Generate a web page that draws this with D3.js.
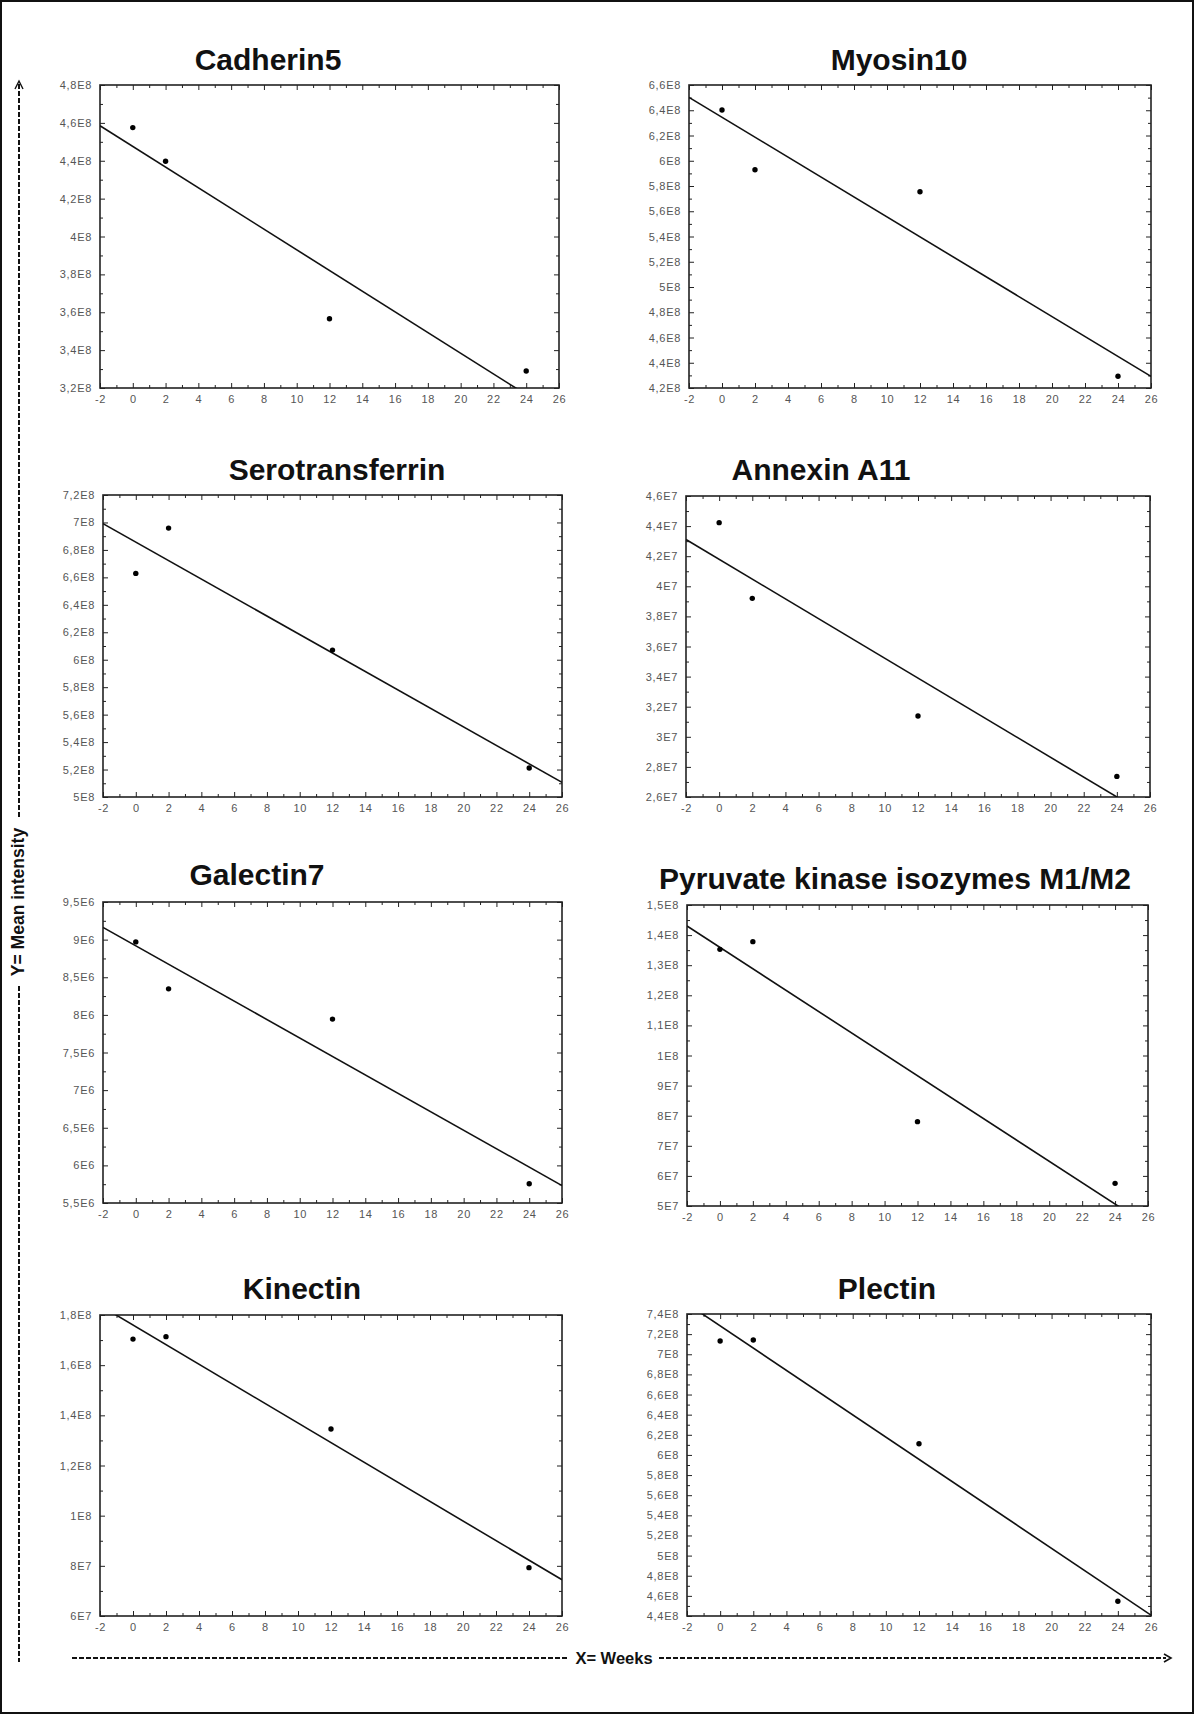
<!DOCTYPE html>
<html>
<head>
<meta charset="utf-8">
<script src="https://cdn.jsdelivr.net/npm/d3@7"></script>
<style>
  html, body { margin: 0; padding: 0; background: #fff; }
  svg { display: block; }
</style>
</head>
<body>
<svg id="fig" width="1195" height="1715"></svg>
<script>
// Sampling times (weeks) shared by every protein
const weeks = [0, 2, 12, 24];

// Mean intensity per protein at each sampling time
const cadherin5      = [4.575e8, 4.397e8, 3.566e8, 3.290e8];
const myosin10       = [6.402e8, 5.929e8, 5.754e8, 4.293e8];
const serotransferrin = [6.629e8, 6.959e8, 6.070e8, 5.211e8];
const annexinA11     = [4.423e7, 3.920e7, 3.138e7, 2.737e7];
const galectin7      = [8.970e6, 8.346e6, 7.944e6, 5.756e6];
const pyruvateKinase = [1.3527e8, 1.3782e8, 7.802e7, 5.753e7];
const kinectin       = [1.704e8, 1.7136e8, 1.3455e8, 7.927e7];
const plectin        = [7.1315e8, 7.1414e8, 6.1104e8, 4.546e8];

// Panel titles
const titles = ["Cadherin5", "Myosin10", "Serotransferrin", "Annexin A11",
                "Galectin7", "Pyruvate kinase isozymes M1/M2", "Kinectin", "Plectin"];

// X axis: major labelled ticks
const xMajor = [-2, 0, 2, 4, 6, 8, 10, 12, 14, 16, 18, 20, 22, 24, 26];
const xLabels = ["-2", "0", "2", "4", "6", "8", "10", "12", "14", "16", "18", "20", "22", "24", "26"];

// Y axis tick values and labels per panel
const yTicksCad = [3.2e8, 3.4e8, 3.6e8, 3.8e8, 4.0e8, 4.2e8, 4.4e8, 4.6e8, 4.8e8];
const yLabelsCad = ["3,2E8", "3,4E8", "3,6E8", "3,8E8", "4E8", "4,2E8", "4,4E8", "4,6E8", "4,8E8"];
const yTicksMyo = [4.2e8, 4.4e8, 4.6e8, 4.8e8, 5.0e8, 5.2e8, 5.4e8, 5.6e8, 5.8e8, 6.0e8, 6.2e8, 6.4e8, 6.6e8];
const yLabelsMyo = ["4,2E8", "4,4E8", "4,6E8", "4,8E8", "5E8", "5,2E8", "5,4E8", "5,6E8", "5,8E8", "6E8", "6,2E8", "6,4E8", "6,6E8"];
const yTicksSer = [5.0e8, 5.2e8, 5.4e8, 5.6e8, 5.8e8, 6.0e8, 6.2e8, 6.4e8, 6.6e8, 6.8e8, 7.0e8, 7.2e8];
const yLabelsSer = ["5E8", "5,2E8", "5,4E8", "5,6E8", "5,8E8", "6E8", "6,2E8", "6,4E8", "6,6E8", "6,8E8", "7E8", "7,2E8"];
const yTicksAnx = [2.6e7, 2.8e7, 3.0e7, 3.2e7, 3.4e7, 3.6e7, 3.8e7, 4.0e7, 4.2e7, 4.4e7, 4.6e7];
const yLabelsAnx = ["2,6E7", "2,8E7", "3E7", "3,2E7", "3,4E7", "3,6E7", "3,8E7", "4E7", "4,2E7", "4,4E7", "4,6E7"];
const yTicksGal = [5.5e6, 6.0e6, 6.5e6, 7.0e6, 7.5e6, 8.0e6, 8.5e6, 9.0e6, 9.5e6];
const yLabelsGal = ["5,5E6", "6E6", "6,5E6", "7E6", "7,5E6", "8E6", "8,5E6", "9E6", "9,5E6"];
const yTicksPyr = [5e7, 6e7, 7e7, 8e7, 9e7, 1.0e8, 1.1e8, 1.2e8, 1.3e8, 1.4e8, 1.5e8];
const yLabelsPyr = ["5E7", "6E7", "7E7", "8E7", "9E7", "1E8", "1,1E8", "1,2E8", "1,3E8", "1,4E8", "1,5E8"];
const yTicksKin = [6e7, 8e7, 1.0e8, 1.2e8, 1.4e8, 1.6e8, 1.8e8];
const yLabelsKin = ["6E7", "8E7", "1E8", "1,2E8", "1,4E8", "1,6E8", "1,8E8"];
const yTicksPle = [4.4e8, 4.6e8, 4.8e8, 5.0e8, 5.2e8, 5.4e8, 5.6e8, 5.8e8, 6.0e8, 6.2e8, 6.4e8, 6.6e8, 6.8e8, 7.0e8, 7.2e8, 7.4e8];
const yLabelsPle = ["4,4E8", "4,6E8", "4,8E8", "5E8", "5,2E8", "5,4E8", "5,6E8", "5,8E8", "6E8", "6,2E8", "6,4E8", "6,6E8", "6,8E8", "7E8", "7,2E8", "7,4E8"];

const seriesList = [cadherin5, myosin10, serotransferrin, annexinA11, galectin7, pyruvateKinase, kinectin, plectin];
const yTickList = [yTicksCad, yTicksMyo, yTicksSer, yTicksAnx, yTicksGal, yTicksPyr, yTicksKin, yTicksPle];
const yLabelList = [yLabelsCad, yLabelsMyo, yLabelsSer, yLabelsAnx, yLabelsGal, yLabelsPyr, yLabelsKin, yLabelsPle];

// Frame of each panel: [left, right, top, bottom] and title anchor [cx, baseline]
const frames = [
  [100, 559, 85, 388], [689, 1151, 85, 388],
  [103, 562, 495, 797], [686, 1150, 496, 797],
  [103, 562, 902, 1203], [687, 1148, 905, 1206],
  [100, 562, 1315, 1616], [687, 1151, 1314, 1616]
];
const titlePos = [
  [268, 70], [899, 70],
  [337, 480], [821, 480],
  [257, 885], [895, 889],
  [302, 1299], [887, 1299]
];

const svg = d3.select("#fig");
svg.append("rect").attr("width", 1195).attr("height", 1715).attr("fill", "#fff");

// Least-squares fit of y on x
function linearFit(xs, ys) {
  const mx = d3.mean(xs), my = d3.mean(ys);
  let sxy = 0, sxx = 0;
  xs.forEach((x, i) => { sxy += (x - mx) * (ys[i] - my); sxx += (x - mx) * (x - mx); });
  const b = sxy / sxx;
  return { slope: b, intercept: my - b * mx };
}

const labelFont = "'Liberation Sans', Arial, sans-serif";

seriesList.forEach((vals, p) => {
  const [x0, x1, y0, y1] = frames[p];
  const yt = yTickList[p];
  const yl = yLabelList[p];
  const x = d3.scaleLinear().domain([xMajor[0], xMajor[xMajor.length - 1]]).range([x0, x1]);
  const y = d3.scaleLinear().domain([yt[0], yt[yt.length - 1]]).range([y1, y0]);

  const g = svg.append("g");

  // title
  g.append("text")
    .attr("x", titlePos[p][0]).attr("y", titlePos[p][1])
    .attr("text-anchor", "middle")
    .attr("font-family", labelFont)
    .attr("font-weight", "bold")
    .attr("font-size", 30)
    .attr("fill", "#111")
    .text(titles[p]);

  // minor tick positions
  const xMinor = d3.range(xMajor[0], xMajor[xMajor.length - 1] + 0.001, 1).filter(v => !xMajor.includes(v));
  const step = yt[1] - yt[0];
  const yMinor = yt.slice(0, -1).map(v => v + step / 2);

  const styleAxis = sel => {
    sel.select(".domain").remove();
    sel.selectAll("line").attr("stroke", "#222").attr("stroke-width", 1);
    sel.selectAll("text")
      .attr("font-family", labelFont)
      .attr("font-size", 11)
      .attr("letter-spacing", 0.7)
      .attr("fill", "#555");
  };

  // bottom axis with labels, ticks pointing inward
  g.append("g").attr("transform", `translate(0,${y1})`)
    .call(d3.axisBottom(x).tickValues(xMajor).tickSize(-5).tickSizeOuter(0).tickPadding(7)
      .tickFormat((d, i) => xLabels[i]))
    .call(styleAxis);
  g.append("g").attr("transform", `translate(0,${y1})`)
    .call(d3.axisBottom(x).tickValues(xMinor).tickSize(-3).tickSizeOuter(0).tickFormat(""))
    .call(styleAxis);
  // top axis, inward ticks only
  g.append("g").attr("transform", `translate(0,${y0})`)
    .call(d3.axisTop(x).tickValues(xMajor).tickSize(-5).tickSizeOuter(0).tickFormat(""))
    .call(styleAxis);
  g.append("g").attr("transform", `translate(0,${y0})`)
    .call(d3.axisTop(x).tickValues(xMinor).tickSize(-3).tickSizeOuter(0).tickFormat(""))
    .call(styleAxis);

  // left axis with labels
  g.append("g").attr("transform", `translate(${x0},0)`)
    .call(d3.axisLeft(y).tickValues(yt).tickSize(-5).tickSizeOuter(0).tickPadding(8)
      .tickFormat((d, i) => yl[i]))
    .call(styleAxis);
  g.append("g").attr("transform", `translate(${x0},0)`)
    .call(d3.axisLeft(y).tickValues(yMinor).tickSize(-3).tickSizeOuter(0).tickFormat(""))
    .call(styleAxis);
  // right axis, inward ticks only
  g.append("g").attr("transform", `translate(${x1},0)`)
    .call(d3.axisRight(y).tickValues(yt).tickSize(-5).tickSizeOuter(0).tickFormat(""))
    .call(styleAxis);
  g.append("g").attr("transform", `translate(${x1},0)`)
    .call(d3.axisRight(y).tickValues(yMinor).tickSize(-3).tickSizeOuter(0).tickFormat(""))
    .call(styleAxis);

  // frame
  g.append("rect")
    .attr("x", x0).attr("y", y0).attr("width", x1 - x0).attr("height", y1 - y0)
    .attr("fill", "none").attr("stroke", "#222").attr("stroke-width", 1.6);

  // fitted regression line, clipped to the frame
  const clipId = "clip" + p;
  svg.append("clipPath").attr("id", clipId)
    .append("rect").attr("x", x0).attr("y", y0).attr("width", x1 - x0).attr("height", y1 - y0);
  const fit = linearFit(weeks, vals);
  const xs = x.domain();
  g.append("line")
    .attr("clip-path", `url(#${clipId})`)
    .attr("x1", x(xs[0])).attr("y1", y(fit.intercept + fit.slope * xs[0]))
    .attr("x2", x(xs[1])).attr("y2", y(fit.intercept + fit.slope * xs[1]))
    .attr("stroke", "#111").attr("stroke-width", 1.6);

  // data points
  g.selectAll("circle.pt").data(vals).join("circle")
    .attr("class", "pt")
    .attr("cx", (d, i) => x(weeks[i]))
    .attr("cy", d => y(d))
    .attr("r", 2.7)
    .attr("fill", "#000");
});

// Y axis caption with dashed arrow
const axisFont = "'Liberation Sans', Arial, sans-serif";
const dash = { stroke: "#111", "stroke-width": 2, "stroke-dasharray": "5,2" };
function applyAttrs(sel, a) { Object.entries(a).forEach(([k, v]) => sel.attr(k, v)); return sel; }

applyAttrs(svg.append("line").attr("x1", 19).attr("x2", 19).attr("y1", 84).attr("y2", 818), dash);
applyAttrs(svg.append("line").attr("x1", 19).attr("x2", 19).attr("y1", 986).attr("y2", 1662), dash);
svg.append("path")
  .attr("d", "M15,89 L19,81 L23,89")
  .attr("fill", "none").attr("stroke", "#111").attr("stroke-width", 1.4);
svg.append("text")
  .attr("transform", "translate(24,902) rotate(-90)")
  .attr("text-anchor", "middle")
  .attr("font-family", axisFont).attr("font-weight", "bold").attr("font-size", 17.5)
  .attr("fill", "#111")
  .text("Y= Mean intensity");

// X axis caption with dashed arrow
applyAttrs(svg.append("line").attr("x1", 72).attr("x2", 569).attr("y1", 1658).attr("y2", 1658), dash);
applyAttrs(svg.append("line").attr("x1", 659).attr("x2", 1166).attr("y1", 1658).attr("y2", 1658), dash);
svg.append("path")
  .attr("d", "M1164,1654 L1171,1658 L1164,1662")
  .attr("fill", "none").attr("stroke", "#111").attr("stroke-width", 1.6);
svg.append("text")
  .attr("x", 614).attr("y", 1664)
  .attr("text-anchor", "middle")
  .attr("font-family", axisFont).attr("font-weight", "bold").attr("font-size", 16.5)
  .attr("fill", "#111")
  .text("X= Weeks");

// page border
svg.append("rect")
  .attr("x", 1).attr("y", 1).attr("width", 1192).attr("height", 1712)
  .attr("fill", "none").attr("stroke", "#111").attr("stroke-width", 2);
</script>
</body>
</html>
